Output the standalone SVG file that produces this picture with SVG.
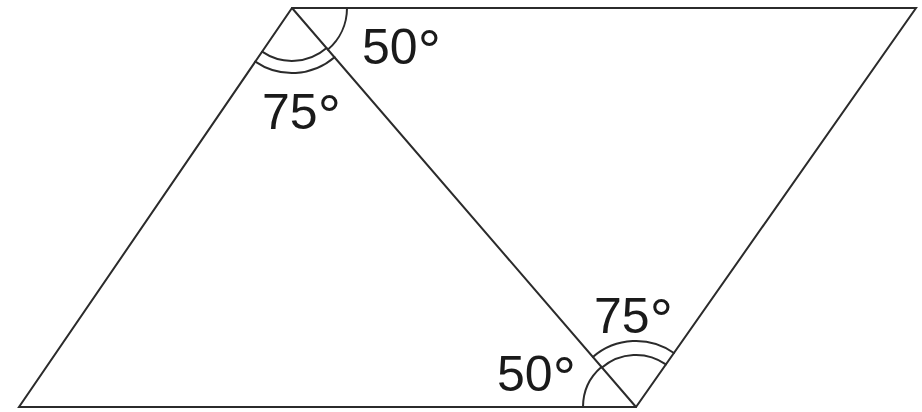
<svg xmlns="http://www.w3.org/2000/svg" width="922" height="412" viewBox="0 0 922 412">
<style>
.ln{fill:none;stroke:#2b2b2b;stroke-width:2;stroke-linecap:round;stroke-linejoin:miter}
.lb{font-family:"Liberation Sans",Arial,sans-serif;font-size:50px;fill:#1a1a1a}
.dg{font-size:58px}
</style>
<rect width="922" height="412" fill="#fff"/>
<g id="shape">
<path class="ln" d="M292,8 L916,8 L636,407 L19,407 Z"/>
<path class="ln" d="M292,8 L636,407"/>
</g>
<g id="arcs">
<path class="ln" d="M347,8 A55,55 0 0 1 327.9,49.6"/>
<path class="ln" d="M326.6,48.1 A53,53 0 0 1 262.1,51.7"/>
<path class="ln" d="M334.5,57.2 A65,65 0 0 1 255.3,61.6"/>
<path class="ln" d="M583,407 A53,53 0 0 1 601.4,366.9"/>
<path class="ln" d="M602,367.6 A52,52 0 0 1 665.9,364.4"/>
<path class="ln" d="M592.9,357 A66,66 0 0 1 673.9,353"/>
</g>
<g id="labels">
<text class="lb" x="362" y="64">50<tspan class="dg" dy="6">°</tspan></text>
<text class="lb" x="262" y="129">75<tspan class="dg" dy="6">°</tspan></text>
<text class="lb" x="594" y="333">75<tspan class="dg" dy="6">°</tspan></text>
<text class="lb" x="497" y="391">50<tspan class="dg" dy="6">°</tspan></text>
</g>
</svg>
